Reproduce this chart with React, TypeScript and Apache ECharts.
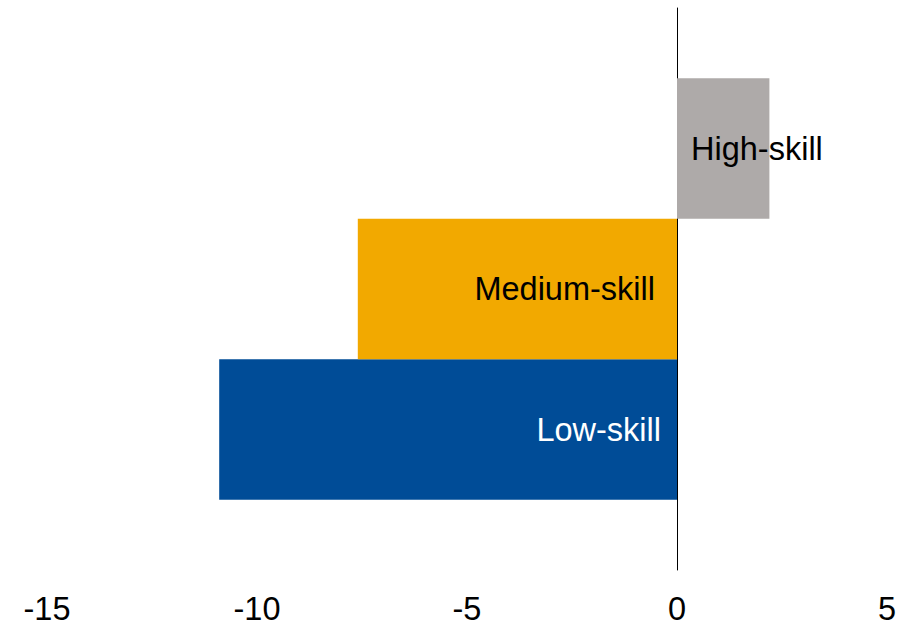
import React, { useEffect, useRef } from "react";
import * as echarts from "echarts";

const categories = ["", "Low-skill", "Medium-skill", "High-skill", ""];
const values: (number | null)[] = [null, -10.9, -7.6, 2.2, null];
const barColors = ["#000000", "#004C97", "#F2A900", "#AEAAA9", "#000000"];
const labelColors = ["#000", "#FFFFFF", "#000000", "#000000", "#000"];
const xTicks = [-15, -10, -5, 0, 5];

export default function App() {
  const ref = useRef<HTMLDivElement>(null);
  useEffect(() => {
    const chart = echarts.init(ref.current!, null, { renderer: "svg" });
    chart.setOption({
      animation: false,
      grid: { left: 47, right: 15, top: 8, bottom: 60, containLabel: false },
      xAxis: {
        type: "value",
        min: xTicks[0],
        max: xTicks[xTicks.length - 1],
        interval: 5,
        axisLine: { show: false },
        axisTick: { show: false },
        splitLine: { show: false },
        axisLabel: {
          fontFamily: "Liberation Sans",
          fontSize: 32.5,
          color: "#000",
          margin: 22,
        },
      },
      yAxis: {
        type: "category",
        data: categories,
        boundaryGap: false,
        axisLine: { show: true, onZero: true, lineStyle: { color: "#000", width: 1 } },
        axisTick: { show: false },
        axisLabel: { show: false },
        splitLine: { show: false },
      },
      series: [
        {
          type: "bar",
          barWidth: "100%",
          data: values.map((v, i) => {
            if (v === null) return null;
            return {
              value: v,
              itemStyle: { color: barColors[i] },
              label: {
                show: true,
                formatter: categories[i],
                position: v < 0 ? "insideRight" : "insideLeft",
                distance: v < 0 ? (i === 1 ? 16 : 22) : 14,
                color: labelColors[i],
                fontFamily: "Liberation Sans",
                fontSize: 32.5,
              },
            };
          }),
        },
      ],
    });
    return () => chart.dispose();
  }, []);
  return (
    <div
      ref={ref}
      style={{ position: "fixed", left: 0, top: 0, width: 902, height: 630, background: "#fff" }}
    />
  );
}
